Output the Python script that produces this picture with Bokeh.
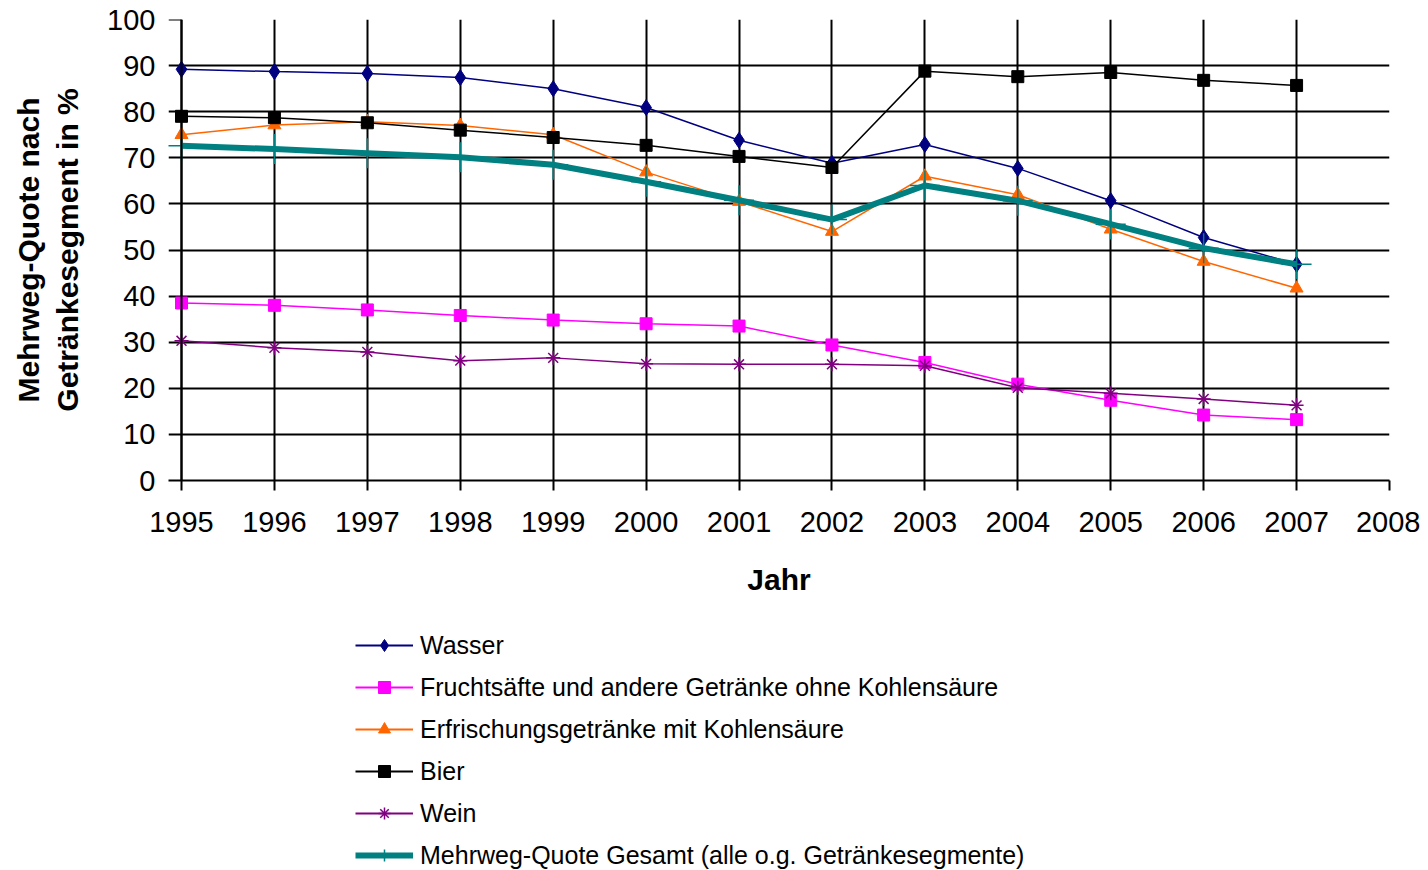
from bokeh.plotting import figure
from bokeh.layouts import column
from bokeh.models import Range1d, FixedTicker, Span, Legend, LegendItem
from bokeh.embed import file_html
from bokeh.resources import INLINE

years = list(range(1995, 2008))
wasser = [89.2, 88.7, 88.3, 87.4, 85.0, 80.9, 73.8, 68.8, 72.9, 67.7, 60.7, 52.7, 46.9]
frucht = [38.5, 38.0, 37.0, 35.8, 34.8, 34.0, 33.5, 29.4, 25.6, 20.9, 17.4, 14.2, 13.2]
erfr = [75.0, 77.1, 77.8, 77.0, 75.0, 66.9, 60.5, 54.0, 66.0, 62.0, 54.5, 47.5, 41.7]
bier = [79.0, 78.7, 77.6, 76.0, 74.4, 72.7, 70.3, 67.9, 88.8, 87.6, 88.5, 86.8, 85.7]
wein = [30.3, 28.8, 27.9, 26.0, 26.6, 25.3, 25.2, 25.2, 24.9, 20.1, 18.9, 17.7, 16.3]
gesamt = [72.6, 71.9, 71.0, 70.1, 68.5, 64.8, 60.8, 56.6, 64.0, 60.7, 55.6, 50.4, 46.9]

names = ["Wasser", "Fruchtsäfte und andere Getränke ohne Kohlensäure",
         "Erfrischungsgetränke mit Kohlensäure", "Bier", "Wein",
         "Mehrweg-Quote Gesamt (alle o.g. Getränkesegmente)"]
colors = ["#000080", "#FF00FF", "#FF6600", "black", "#800080", "#008080"]
x_ticks = list(range(1995, 2009))
y_ticks = list(range(0, 101, 10))

FONT = "Liberation Sans"
x_start = 1995 - 13 / 92.92

p = figure(width=1420, height=600, output_backend="svg", toolbar_location=None,
           x_range=Range1d(x_start, 2008), y_range=Range1d(0, 100),
           min_border_left=168, min_border_right=31, min_border_top=19, min_border_bottom=120)
p.outline_line_color = None

# grids
p.xgrid.ticker = FixedTicker(ticks=years)
p.ygrid.ticker = FixedTicker(ticks=y_ticks[1:-1])
for g in (p.xgrid[0], p.ygrid[0]):
    g.grid_line_color = "black"
    g.grid_line_width = 2
    g.grid_line_alpha = 1.0

# x axis
xa = p.xaxis[0]
xa.ticker = FixedTicker(ticks=x_ticks)
xa.axis_line_color = "black"
xa.axis_line_width = 2
xa.major_tick_line_width = 2
xa.major_tick_line_color = "black"
xa.major_tick_out = 10
xa.major_tick_in = 0
xa.minor_tick_line_color = None
xa.major_label_text_font = FONT
xa.major_label_text_font_size = "29px"
xa.major_label_text_color = "black"
xa.major_label_standoff = 21
xa.axis_label = "Jahr"
xa.axis_label_text_font = FONT
xa.axis_label_text_font_size = "30px"
xa.axis_label_text_font_style = "bold"
xa.axis_label_text_color = "black"
xa.axis_label_standoff = 28

# y axis
ya = p.yaxis[0]
ya.ticker = FixedTicker(ticks=y_ticks)
ya.axis_line_color = None
ya.major_tick_line_color = None
ya.major_tick_out = 0
ya.major_tick_in = 0
ya.minor_tick_line_color = None
ya.major_label_text_font = FONT
ya.major_label_text_font_size = "29px"
ya.major_label_text_color = "black"
ya.major_label_standoff = 13
ya.axis_label = "Mehrweg-Quote nach\nGetränkesegment in %"
ya.axis_label_text_font = FONT
ya.axis_label_text_font_size = "30px"
ya.axis_label_text_font_style = "bold"
ya.axis_label_text_color = "black"
ya.axis_label_standoff = 20

# y-axis line at 1995 and top tick
p.add_layout(Span(location=1995, dimension="height", line_color="black", line_width=2))
p.segment(x0=[x_start], x1=[1995], y0=[100], y1=[100], line_color="black", line_width=2)

series = [wasser, frucht, erfr, bier, wein, gesamt]
markers = [("diamond", 16), ("square", 12), ("triangle", 13), ("square", 12), ("asterisk", 14), ("cross", 30)]
widths = [1.5, 1.5, 1.5, 1.5, 1.5, 6]

for vals, c, (mk, sz), w in zip(series, colors, markers, widths):
    p.line(years, vals, line_color=c, line_width=w)
    if mk in ("asterisk", "cross"):
        p.scatter(years, vals, marker=mk, size=sz, line_color=c, line_width=1.5)
    else:
        p.scatter(years, vals, marker=mk, size=sz, color=c)

# legend figure
q = figure(width=1420, height=270, output_backend="svg", toolbar_location=None,
           x_axis_type=None, y_axis_type=None, x_range=Range1d(0, 1), y_range=Range1d(0, 1),
           min_border=0)
q.outline_line_color = None
q.xgrid.visible = False
q.ygrid.visible = False
legend_marker_sizes = [14, 12, 13, 12, 14, 26]
items = []
for name, c, (mk, sz), w, ls in zip(names, colors, markers, widths, legend_marker_sizes):
    lr = q.line([-5, -4], [-5, -4], line_color=c, line_width=w if w > 2 else 2)
    if mk in ("asterisk", "cross"):
        mr = q.scatter([-5], [-5], marker=mk, size=ls, line_color=c, line_width=1.5)
    else:
        mr = q.scatter([-5], [-5], marker=mk, size=ls, color=c)
    items.append(LegendItem(label=name, renderers=[lr, mr]))

legend = Legend(items=items, location=(187, 0), orientation="vertical",
                glyph_width=58, glyph_height=30, label_height=30, spacing=12,
                padding=0, margin=0, label_standoff=7,
                label_text_font=FONT, label_text_font_size="25px", label_text_color="black",
                border_line_color=None, background_fill_alpha=0)
q.add_layout(legend, "center")

layout = column(p, q, spacing=0)
open("out.html", "w").write(file_html(layout, INLINE))
